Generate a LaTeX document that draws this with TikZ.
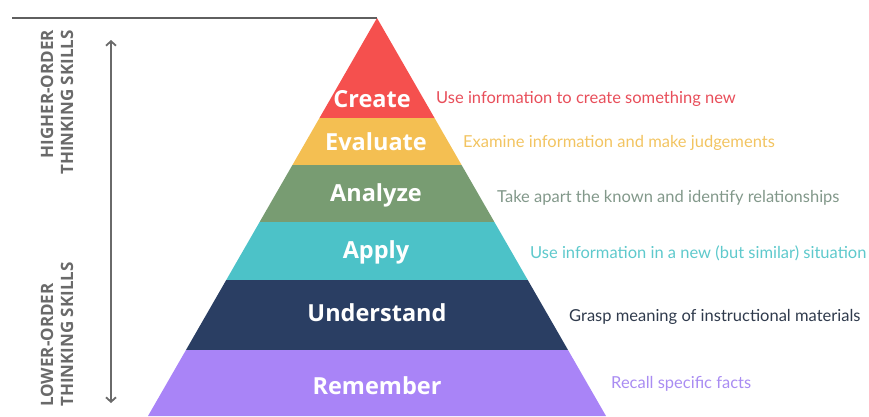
\documentclass[tikz,border=0pt]{standalone}
\usepackage{fontspec}
\setmainfont{Open Sans}
\newfontfamily\descfont{Lato}
\usetikzlibrary{arrows.meta}
\definecolor{cCreate}{HTML}{F5504E}
\definecolor{cEval}{HTML}{F4BF52}
\definecolor{cAnal}{HTML}{789C72}
\definecolor{cApply}{HTML}{4CC2C8}
\definecolor{cUnder}{HTML}{2A3E63}
\definecolor{cRemem}{HTML}{A984F7}
\definecolor{dCreate}{HTML}{E84E5A}
\definecolor{dEval}{HTML}{F2C461}
\definecolor{dAnal}{HTML}{82988A}
\definecolor{dApply}{HTML}{5EC9CC}
\definecolor{dUnder}{HTML}{2F3A4C}
\definecolor{dRemem}{HTML}{A98CF2}
\definecolor{side}{HTML}{6A6A6A}
\tikzset{
  lvl/.style={anchor=base, text=white, font=\fontsize{23.5}{27}\selectfont\bfseries, inner sep=0pt},
  desc/.style={anchor=base west, font=\descfont\fontsize{16.5}{19}\selectfont, inner sep=0pt},
  sidetxt/.style={rotate=90, text=side, font=\fontsize{17}{20}\selectfont\bfseries, inner sep=0pt},
}
\begin{document}
\begin{tikzpicture}[x=1pt,y=-1pt]
\useasboundingbox (0,0) rectangle (869,416);
\def\k{0.5754}
% bands
\foreach \ya/\yb/\c in {18/118/cCreate,118/165/cEval,165/222/cAnal,222/280/cApply,280/350/cUnder,350/416/cRemem}{
  \fill[\c] ({377-(\ya-18)*\k},\ya) -- ({377+(\ya-18)*\k},\ya) -- ({377+(\yb-18)*\k},\yb) -- ({377-(\yb-18)*\k},\yb) -- cycle;
}
% labels
\node[lvl] (create) at (372,107) {Create};
\node[lvl] (evaluate) at (376,150) {Evaluate};
\node[lvl] (analyze) at (376,201) {Analyze};
\node[lvl] (apply) at (376,258) {Apply};
\node[lvl] (understand) at (377,321) {Understand};
\node[lvl] (remember) at (377,394) {Remember};
% descriptions
\node[desc, text=dCreate] (dcreate) at (436,103) {Use information to create something new};
\node[desc, text=dEval] (devaluate) at (463,147) {Examine information and make judgements};
\node[desc, text=dAnal] (danalyze) at (497,202) {Take apart the known and identify relationships};
\node[desc, text=dApply] (dapply) at (530,258) {Use information in a new (but similar) situation};
\node[desc, text=dUnder] (dunderstand) at (569,321) {Grasp meaning of instructional materials};
\node[desc, text=dRemem] (dremember) at (611,388) {Recall specific facts};
% top line
\coordinate (tl) at (12,18);
\coordinate (apex) at (377,18);
\draw[side!90!black, line width=1.8pt] (tl) -- (apex);
% arrow
\coordinate (atop) at (111,40);
\coordinate (abot) at (111,403);
\draw[side, line width=1.8pt, {Straight Barb[length=4.5pt,width=10pt]}-{Straight Barb[length=4.5pt,width=10pt]}] (atop) -- (abot);
% side texts
\node[sidetxt, anchor=base east] (h1) at (53,30) {HIGHER-ORDER};
\node[sidetxt, anchor=base east] (h2) at (73,30) {THINKING SKILLS};
\node[sidetxt, anchor=base west] (l1) at (53,407) {LOWER-ORDER};
\node[sidetxt, anchor=base west] (l2) at (73,407) {THINKING SKILLS};
\end{tikzpicture}
\end{document}
